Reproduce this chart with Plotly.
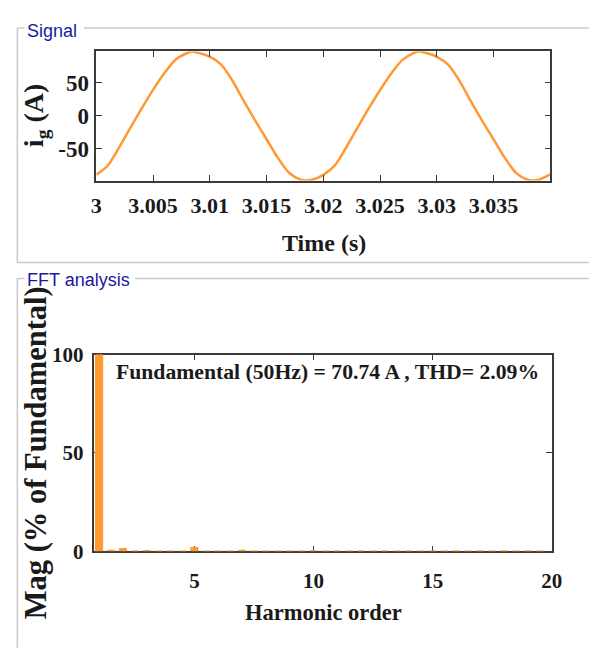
import plotly.graph_objects as go

# ---------------------------------------------------------------- data
# grid current samples, two fundamental cycles (time in s, current in A)
time_cycle_1 = [3.000, 3.001, 3.002, 3.003, 3.004, 3.005, 3.006, 3.007, 3.008, 3.0084,
                3.009, 3.010, 3.011, 3.012, 3.013, 3.014, 3.015, 3.016, 3.017, 3.018,
                3.0184, 3.019]
current_cycle_1 = [-89.5, -75.6, -48.4, -18.3, 11.2, 39.2, 64.6, 85.1, 95.0, 97.3,
                   95.2, 89.4, 77.5, 53.0, 21.9, -7.5, -35.7, -64.0, -86.9, -97.0,
                   -98.3, -97.2]
time_cycle_2 = [3.020, 3.021, 3.022, 3.023, 3.024, 3.025, 3.026, 3.027, 3.028, 3.0284,
                3.029, 3.030, 3.031, 3.032, 3.033, 3.034, 3.035, 3.036, 3.037, 3.038,
                3.0384, 3.039, 3.040]
current_cycle_2 = [-89.6, -75.8, -48.6, -18.5, 11.0, 39.0, 64.5, 85.0, 95.1, 97.3,
                   95.3, 89.3, 77.3, 52.8, 21.7, -7.7, -35.9, -64.2, -87.0, -97.1,
                   -98.3, -97.0, -89.0]

time_ticks = [3.000, 3.005, 3.010, 3.015, 3.020, 3.025, 3.030, 3.035]
time_tick_text = ["3", "3.005", "3.01", "3.015", "3.02", "3.025", "3.03", "3.035"]
current_ticks = [-50, 0, 50]
current_tick_text = ["-50", "0", "50"]

# FFT spectrum, magnitude in % of the fundamental
harmonic_order = [1.0, 1.5, 2.0, 2.5, 3.0, 3.5, 4.0, 4.5, 5.0, 5.5,
                  6.0, 6.5, 7.0, 7.5, 8.0, 8.5, 9.0, 9.5, 10.0, 10.5,
                  11.0, 11.5, 12.0, 12.5, 13.0, 13.5, 14.0, 14.5, 15.0, 15.5,
                  16.0, 16.5, 17.0, 17.5, 18.0, 18.5, 19.0, 19.5]
magnitude_pct = [100.0, 0.6, 1.5, 0.2, 0.4, 0.15, 0.2, 0.15, 2.0, 0.15,
                 0.2, 0.15, 0.6, 0.15, 0.2, 0.15, 0.2, 0.15, 0.3, 0.15,
                 0.2, 0.15, 0.2, 0.15, 0.2, 0.15, 0.2, 0.15, 0.2, 0.15,
                 0.2, 0.15, 0.2, 0.15, 0.2, 0.15, 0.2, 0.15]
order_ticks = [5, 10, 15, 20]
mag_ticks = [0, 50, 100]

fundamental_hz = 50
fundamental_a = 70.74
thd_pct = 2.09

# ---------------------------------------------------------------- style
W, H = 589, 651
ORANGE = "#FF9933"
AXIS = "#3a3a3a"
TEXT = "#1a1a1a"
SERIF = "Liberation Serif, Times New Roman, serif"
SANS = "Liberation Sans, Arial, sans-serif"
PANEL = "#c9c9c9"
NAVY = "#1a1a9c"


def px(x):
    return x / W


def py(y):
    return 1 - y / H


time_s = time_cycle_1 + time_cycle_2
current_a = current_cycle_1 + current_cycle_2

fig = go.Figure()

fig.add_trace(go.Scatter(
    x=time_s, y=current_a, mode="lines",
    line=dict(color=ORANGE, width=2.5, shape="spline", smoothing=0.8),
    xaxis="x", yaxis="y", hoverinfo="skip",
))

fig.add_trace(go.Bar(
    x=harmonic_order, y=magnitude_pct, width=0.3,
    marker=dict(color=ORANGE, line=dict(color=ORANGE, width=1)),
    xaxis="x2", yaxis="y2", hoverinfo="skip",
))


def axis_style(**kw):
    base = dict(
        showline=True, linecolor=AXIS, linewidth=1.5, mirror="ticks",
        ticks="inside", ticklen=6, tickwidth=1, tickcolor=AXIS,
        showgrid=False, zeroline=False, fixedrange=True,
        tickfont=dict(family=SERIF, size=22, color=TEXT, weight="bold"),
    )
    base.update(kw)
    return base


fig.update_layout(
    width=W, height=H,
    margin=dict(l=0, r=0, t=0, b=0),
    paper_bgcolor="white", plot_bgcolor="white",
    showlegend=False,
    xaxis=axis_style(
        domain=[px(93), px(560.5)], range=[3.0, 3.04], anchor="y",
        tickmode="array", tickvals=time_ticks, ticktext=time_tick_text,
        ticklabelstandoff=4,
    ),
    yaxis=axis_style(
        domain=[py(175), py(41)], range=[-98.3, 97.3], anchor="x",
        tickmode="array", tickvals=current_ticks, ticktext=current_tick_text,
        tickfont=dict(family=SERIF, size=23, color=TEXT, weight="bold"),
        ticklabelstandoff=1,
    ),
    xaxis2=axis_style(
        domain=[px(91), px(562)], range=[0.8, 20], anchor="y2",
        tickmode="array", tickvals=order_ticks,
        tickfont=dict(family=SERIF, size=21, color=TEXT, weight="bold"),
        ticklabelstandoff=10, layer="below traces",
    ),
    yaxis2=axis_style(
        domain=[py(560), py(355.7)], range=[0, 100], anchor="x2",
        tickmode="array", tickvals=mag_ticks,
        tickfont=dict(family=SERIF, size=21, color=TEXT, weight="bold"),
        ticklabelstandoff=5, layer="below traces",
    ),
)

# panel group boxes
panel_lines = [
    # Signal panel
    (11.7, 16.7, 19, 16.7), (80, 16.7, 600, 16.7),
    (11.7, 16.7, 11.7, 260), (11.7, 260, 600, 260),
    # FFT analysis panel
    (11.7, 276.7, 19, 276.7), (133, 276.7, 600, 276.7),
    (11.7, 276.7, 11.7, 660),
]
for x0, y0, x1, y1 in panel_lines:
    fig.add_shape(type="line", xref="paper", yref="paper",
                  x0=px(x0), y0=py(y0), x1=px(x1), y1=py(y1),
                  line=dict(color=PANEL, width=1.5))

annotations = [
    dict(text="Signal", x=px(20), y=py(19.5), xanchor="left", yanchor="middle",
         font=dict(family=SANS, size=18, color=NAVY)),
    dict(text="FFT analysis", x=px(20), y=py(278), xanchor="left", yanchor="middle",
         font=dict(family=SANS, size=18, color=NAVY)),
    dict(text="i<sub>g</sub> (A)", x=px(30), y=py(108), textangle=-90,
         xanchor="center", yanchor="middle",
         font=dict(family=SERIF, size=28, color=TEXT, weight="bold")),
    dict(text="Time (s)", x=px(327), y=py(240), xanchor="center", yanchor="middle",
         font=dict(family=SERIF, size=24, color=TEXT, weight="bold")),
    dict(text="Mag (% of Fundamental)", x=px(31), y=py(458), textangle=-90,
         xanchor="center", yanchor="middle",
         font=dict(family=SERIF, size=30.5, color=TEXT, weight="bold")),
    dict(text="Harmonic order", x=px(326.5), y=py(624), xanchor="center", yanchor="middle",
         font=dict(family=SERIF, size=22.5, color=TEXT, weight="bold")),
    dict(text=f"Fundamental ({fundamental_hz}Hz) = {fundamental_a:.2f} A , THD= {thd_pct:.2f}%",
         x=px(331), y=py(374), xanchor="center", yanchor="middle",
         font=dict(family=SERIF, size=21.7, color=TEXT, weight="bold")),
]
for a in annotations:
    fig.add_annotation(xref="paper", yref="paper", showarrow=False, **a)

fig.write_html("out.html")
